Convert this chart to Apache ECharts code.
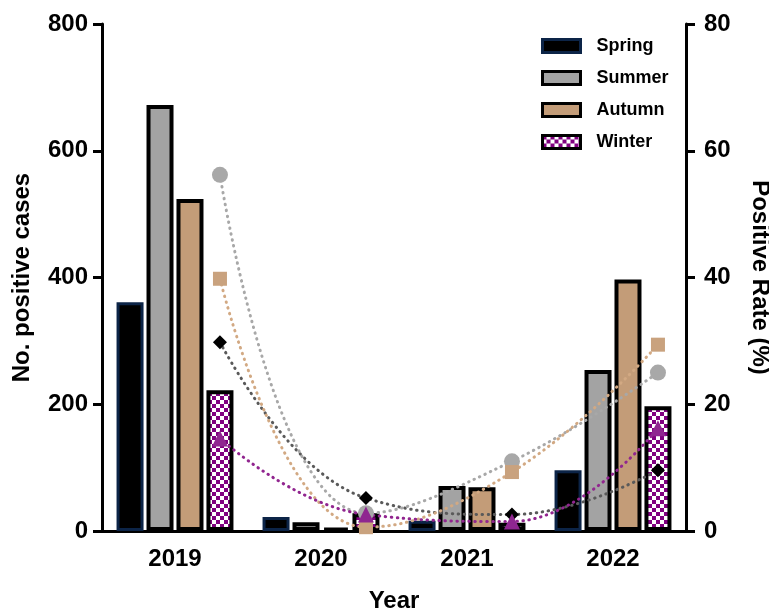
<!DOCTYPE html>
<html>
<head>
<meta charset="utf-8">
<script src="https://cdn.jsdelivr.net/npm/echarts@6/dist/echarts.min.js"></script>
<style>
  html, body { margin: 0; padding: 0; background: #fff; }
  #chart { width: 769px; height: 611px; }
</style>
</head>
<body>
<div id="chart"></div>
<script>
// Seasonal positive case counts (left axis) and positive rates in % (right axis)
const years = ['2019', '2020', '2021', '2022'];
const seasons = ['Spring', 'Summer', 'Autumn', 'Winter'];

const casesSpring = [361, 22, 16, 96];
const casesSummer = [672, 14, 71, 254];
const casesAutumn = [524, 5, 69, 397];
const casesWinter = [222, 28, 13, 197];

const rateSpring = [29.8, 5.2, 2.6, 9.6];
const rateSummer = [56.2, 2.8, 11.0, 25.0];
const rateAutumn = [39.8, 0.6, 9.3, 29.4];
const rateWinter = [14.6, 2.6, 1.5, 16.2];

const leftTicks = [0, 200, 400, 600, 800];
const rightTicks = [0, 20, 40, 60, 80];

// rate markers sit over the winter bar of each year group
const RATE_X_SHIFT = 0.308;

const FONT = '"Liberation Sans", Arial, sans-serif';

// purple / white checkerboard tile for the winter bars
function checkerTile() {
  const c = document.createElement('canvas');
  c.width = 8; c.height = 8;
  const g = c.getContext('2d');
  g.fillStyle = '#ffffff';
  g.fillRect(0, 0, 8, 8);
  g.fillStyle = '#800080';
  g.fillRect(0, 0, 4, 4);
  g.fillRect(4, 4, 4, 4);
  return c;
}

const barStyles = {
  Spring: { color: '#000000', borderColor: '#0c2447', borderWidth: 3 },
  Summer: { color: '#a3a3a3', borderColor: '#000000', borderWidth: 4 },
  Autumn: { color: '#c39c78', borderColor: '#000000', borderWidth: 4 },
  Winter: { color: { image: checkerTile(), repeat: 'repeat' }, borderColor: '#000000', borderWidth: 4 }
};

const rateStyles = {
  Spring: { line: '#5a5a5a', marker: '#000000', symbol: 'diamond', size: 14 },
  Summer: { line: '#a8a8a8', marker: '#a8a8a8', symbol: 'circle', size: 16 },
  Autumn: { line: '#d2a983', marker: '#c9a27e', symbol: 'rect', size: 14 },
  Winter: { line: '#91258f', marker: '#8f2690', symbol: 'triangle', size: 16 }
};

const caseData = { Spring: casesSpring, Summer: casesSummer, Autumn: casesAutumn, Winter: casesWinter };
const rateData = { Spring: rateSpring, Summer: rateSummer, Autumn: rateAutumn, Winter: rateWinter };

const series = [];
seasons.forEach(function (s) {
  series.push({
    name: s,
    type: 'bar',
    xAxisIndex: 0,
    yAxisIndex: 0,
    barWidth: 27,
    barGap: '11%',
    itemStyle: barStyles[s],
    data: caseData[s]
  });
});
seasons.forEach(function (s) {
  const st = rateStyles[s];
  series.push({
    name: s + ' rate',
    type: 'line',
    xAxisIndex: 1,
    yAxisIndex: 1,
    smooth: 0.45,
    z: 5,
    symbol: st.symbol,
    symbolSize: st.size,
    itemStyle: { color: st.marker },
    lineStyle: { color: st.line, width: 3, type: [0.5, 5.5], cap: 'round' },
    data: rateData[s].map(function (v, i) { return [i + 0.5 + RATE_X_SHIFT, v]; })
  });
});

const legendData = seasons.map(function (s) {
  const b = barStyles[s];
  return {
    name: s,
    icon: 'rect',
    itemStyle: { color: b.color, borderColor: b.borderColor, borderWidth: 3 }
  };
});

const axisText = { fontFamily: FONT, fontWeight: 'bold', fontSize: 24, color: '#000' };

const chart = echarts.init(document.getElementById('chart'), null, { renderer: 'canvas' });
chart.setOption({
  animation: false,
  backgroundColor: '#ffffff',
  grid: { left: 102, right: 83, top: 24, bottom: 80, containLabel: false, outerBoundsMode: 'none' },
  legend: {
    data: legendData,
    orient: 'vertical',
    left: 536,
    top: 31,
    padding: 5,
    itemWidth: 38,
    itemHeight: 13,
    itemGap: 12,
    textStyle: { fontFamily: FONT, fontWeight: 'bold', fontSize: 18, color: '#000', lineHeight: 20, padding: [0, 0, 0, 11] }
  },
  xAxis: [
    {
      type: 'category',
      data: years,
      name: 'Year',
      nameLocation: 'middle',
      nameGap: 58,
      nameTextStyle: axisText,
      axisLine: { onZero: false, lineStyle: { color: '#000', width: 3 } },
      axisTick: { alignWithLabel: true, length: 8, lineStyle: { width: 3, color: '#000' } },
      axisLabel: Object.assign({ margin: 16 }, axisText)
    },
    { type: 'value', min: 0, max: 4, show: false }
  ],
  yAxis: [
    {
      type: 'value',
      min: leftTicks[0],
      max: leftTicks[leftTicks.length - 1],
      interval: leftTicks[1] - leftTicks[0],
      name: 'No. positive cases',
      nameLocation: 'middle',
      nameGap: 68,
      nameTextStyle: axisText,
      splitLine: { show: false },
      axisLine: { show: true, onZero: false, lineStyle: { color: '#000', width: 3 } },
      axisTick: { show: true, length: 9, lineStyle: { width: 3, color: '#000' } },
      axisLabel: Object.assign({ margin: 14 }, axisText)
    },
    {
      type: 'value',
      position: 'right',
      min: rightTicks[0],
      max: rightTicks[rightTicks.length - 1],
      interval: rightTicks[1] - rightTicks[0],
      name: 'Positive Rate (%)',
      nameLocation: 'middle',
      nameRotate: -90,
      nameGap: 62,
      nameTextStyle: axisText,
      splitLine: { show: false },
      axisLine: { show: true, onZero: false, lineStyle: { color: '#000', width: 3 } },
      axisTick: { show: true, length: 9, lineStyle: { width: 3, color: '#000' } },
      axisLabel: Object.assign({ margin: 18 }, axisText)
    }
  ],
  series: series
});
</script>
</body>
</html>
